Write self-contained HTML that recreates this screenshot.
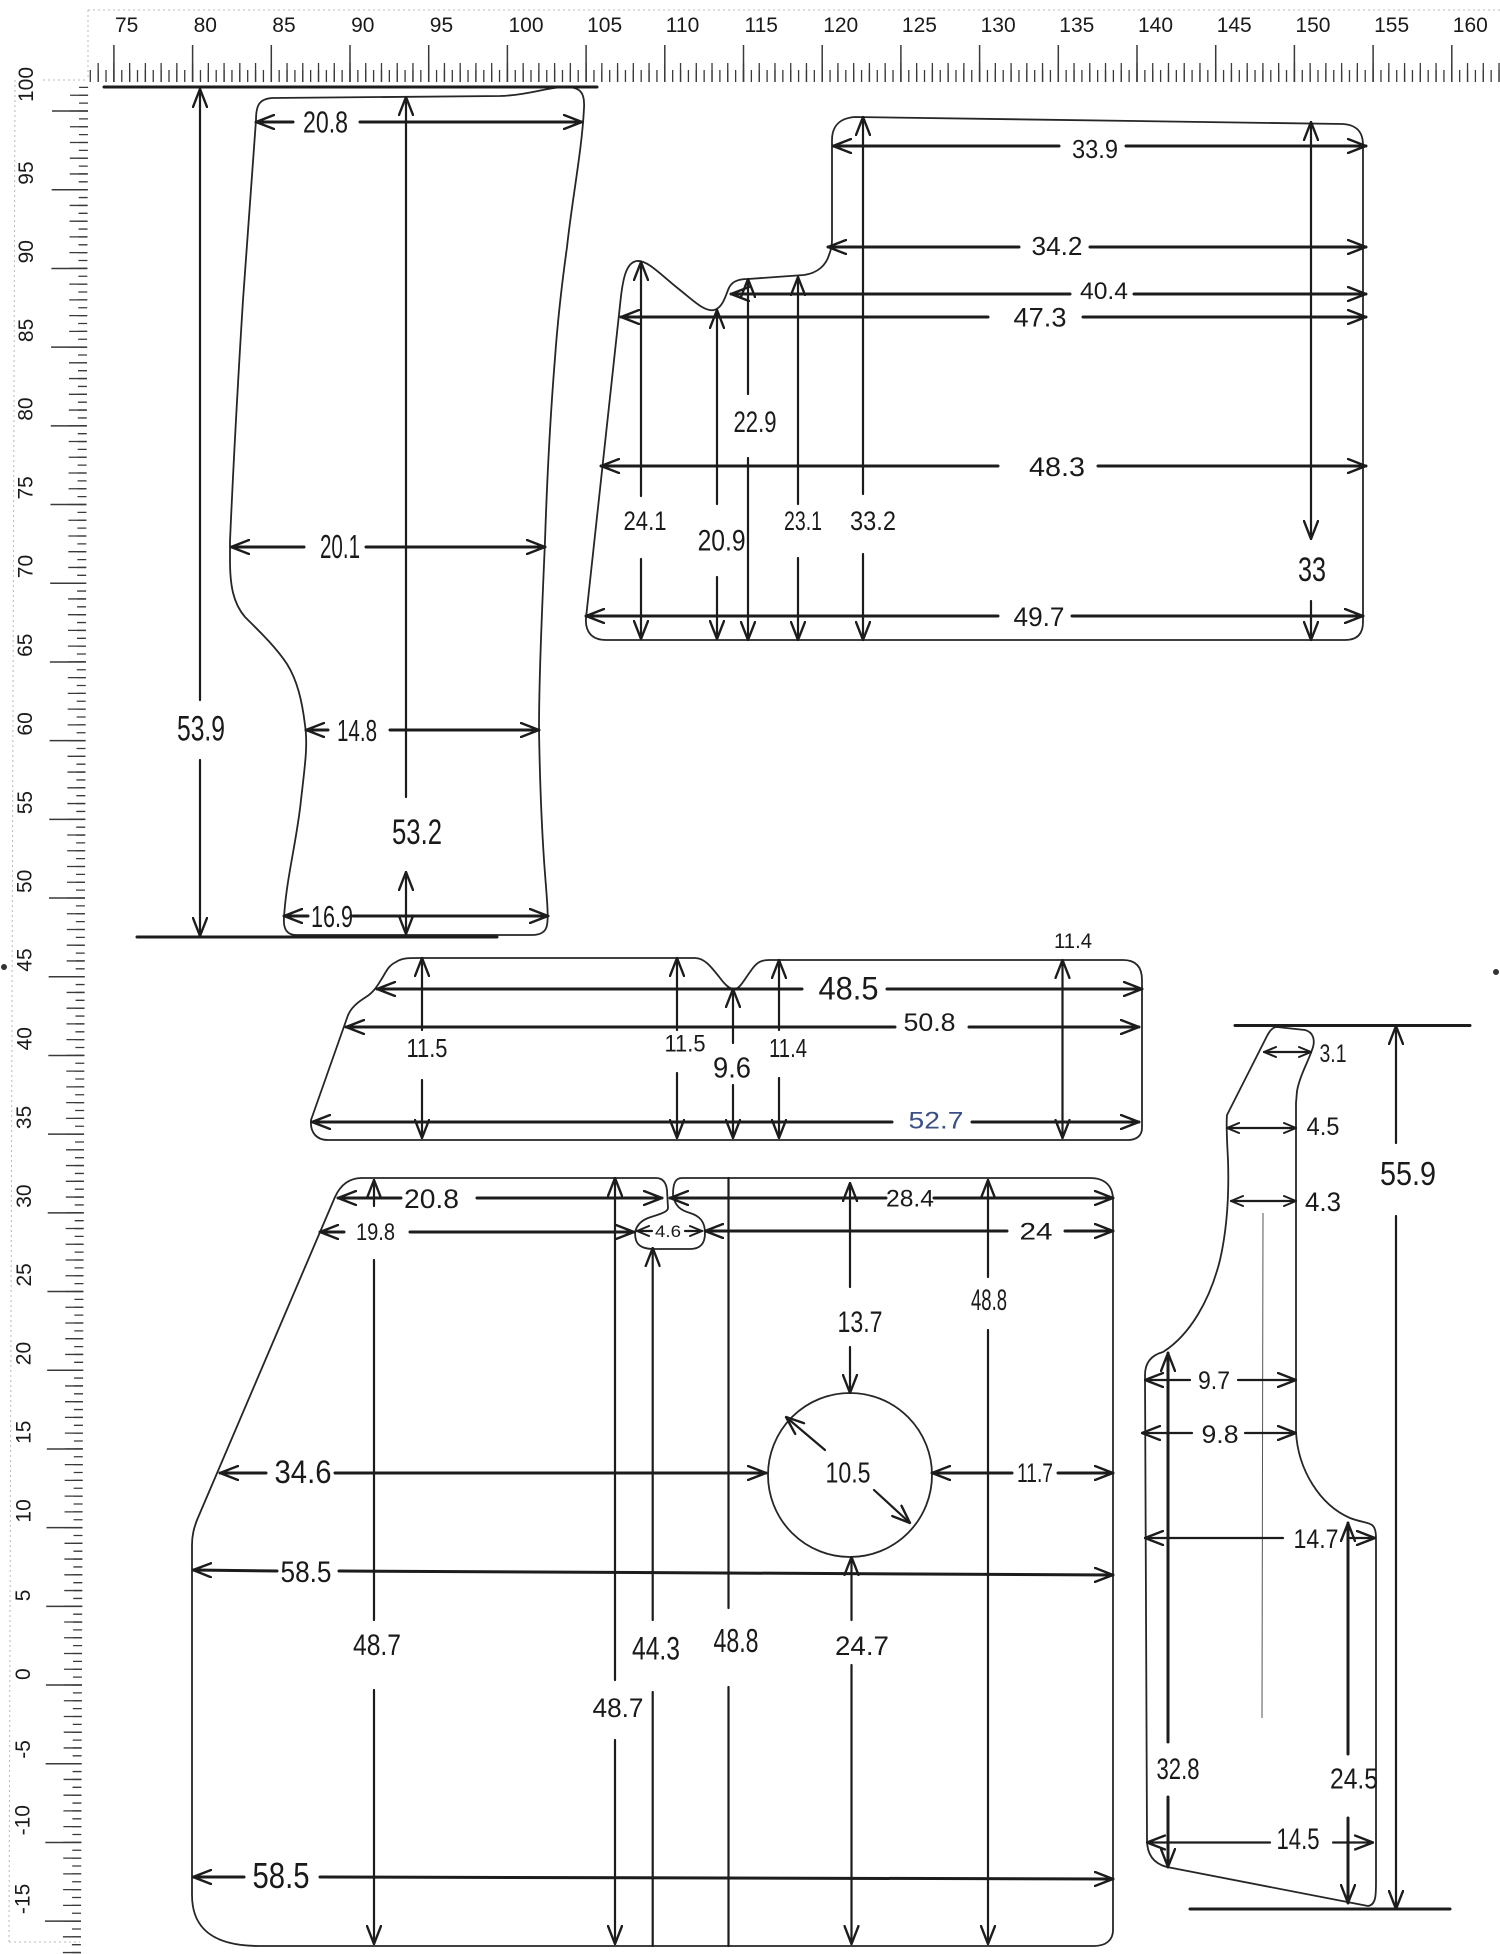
<!DOCTYPE html>
<html>
<head>
<meta charset="utf-8">
<style>
html,body{margin:0;padding:0;background:#fff;}
svg{display:block;}
.o{fill:none;stroke:#262626;stroke-width:1.8;stroke-linejoin:round;stroke-linecap:round;}
.d{fill:none;stroke:#1c1c1c;stroke-width:3;stroke-linecap:round;}
.v{fill:none;stroke:#1c1c1c;stroke-width:2.2;stroke-linecap:round;}
.s{marker-start:url(#a);}
.e{marker-end:url(#a);}
.b{marker-start:url(#a);marker-end:url(#a);}
.ss{marker-start:url(#m);}
.ee{marker-end:url(#m);}
.t{font-family:"Liberation Sans Narrow","Liberation Sans",sans-serif;fill:#1a1a1a;text-anchor:middle;}
.r{font-family:"Liberation Sans",sans-serif;fill:#1a1a1a;font-size:21px;}
</style>
</head>
<body>
<svg width="1500" height="1954" viewBox="0 0 1500 1954" xmlns="http://www.w3.org/2000/svg">
<defs>
<marker id="a" viewBox="0 0 20 16" refX="19" refY="8" markerWidth="20" markerHeight="16" markerUnits="userSpaceOnUse" orient="auto-start-reverse">
<path d="M1,1 L19,8 L1,15" fill="none" stroke="#1c1c1c" stroke-width="2.4" stroke-linecap="round" stroke-linejoin="round"/>
</marker>
<marker id="m" viewBox="0 0 14 12" refX="13" refY="6" markerWidth="14" markerHeight="12" markerUnits="userSpaceOnUse" orient="auto-start-reverse">
<path d="M1,1 L13,6 L1,11" fill="none" stroke="#1c1c1c" stroke-width="2" stroke-linecap="round" stroke-linejoin="round"/>
</marker>
</defs>
<rect width="1500" height="1954" fill="#ffffff"/>

<!-- ruler frame dotted -->
<g stroke="#b8b8b8" stroke-width="1" stroke-dasharray="2 3" fill="none">
<line x1="88" y1="10" x2="1500" y2="10"/>
<line x1="88" y1="10" x2="88" y2="80"/>
<line x1="43" y1="80" x2="88" y2="80"/>
<line x1="15" y1="80" x2="9" y2="1942"/>
<line x1="9" y1="1942" x2="80" y2="1942"/>
</g>

<!-- top ruler ticks -->
<g stroke="#3a3a3a" fill="none">
<line x1="89.64" y1="76" x2="1500" y2="76" stroke-width="12" stroke-dasharray="1.3 6.57"/>
<line x1="97.51" y1="72.5" x2="1500" y2="72.5" stroke-width="19" stroke-dasharray="1.3 14.44"/>
<line x1="113.15" y1="63.5" x2="1500" y2="63.5" stroke-width="37" stroke-dasharray="1.5 77.2"/>
</g>
<g class="r">
<text x="115" y="32">75</text><text x="193.6" y="32">80</text><text x="272.3" y="32">85</text>
<text x="351.1" y="32">90</text><text x="429.8" y="32">95</text><text x="508.5" y="32">100</text>
<text x="587.1" y="32">105</text><text x="665.8" y="32">110</text><text x="744.5" y="32">115</text>
<text x="823.2" y="32">120</text><text x="901.9" y="32">125</text><text x="980.6" y="32">130</text>
<text x="1059.3" y="32">135</text><text x="1138" y="32">140</text><text x="1216.7" y="32">145</text>
<text x="1295.4" y="32">150</text><text x="1374.1" y="32">155</text><text x="1452.8" y="32">160</text>
</g>

<!-- left ruler ticks -->
<g stroke="#3a3a3a" fill="none" transform="matrix(1 0 -0.00387 1 0.43 0)">
<line x1="83.5" y1="86.74" x2="83.5" y2="1954" stroke-width="9" stroke-dasharray="1.3 6.57"/>
<line x1="79" y1="94.6" x2="79" y2="1954" stroke-width="18" stroke-dasharray="1.3 14.44"/>
<line x1="70" y1="110.3" x2="70" y2="1954" stroke-width="36" stroke-dasharray="1.5 77.2"/>
</g>
<g class="r">
<text transform="translate(33,102) rotate(-90)">100</text>
<text transform="translate(33,184.7) rotate(-90)">95</text>
<text transform="translate(33,263.4) rotate(-90)">90</text>
<text transform="translate(33,342.1) rotate(-90)">85</text>
<text transform="translate(32.5,420.8) rotate(-90)">80</text>
<text transform="translate(32.5,499.5) rotate(-90)">75</text>
<text transform="translate(32.5,578.2) rotate(-90)">70</text>
<text transform="translate(32,656.9) rotate(-90)">65</text>
<text transform="translate(32,735.6) rotate(-90)">60</text>
<text transform="translate(32,814.3) rotate(-90)">55</text>
<text transform="translate(31.5,893) rotate(-90)">50</text>
<text transform="translate(31.5,971.7) rotate(-90)">45</text>
<text transform="translate(31.5,1050.4) rotate(-90)">40</text>
<text transform="translate(31,1129.1) rotate(-90)">35</text>
<text transform="translate(31,1207.8) rotate(-90)">30</text>
<text transform="translate(31,1286.5) rotate(-90)">25</text>
<text transform="translate(30.5,1365.2) rotate(-90)">20</text>
<text transform="translate(30.5,1443.9) rotate(-90)">15</text>
<text transform="translate(30.5,1522.6) rotate(-90)">10</text>
<text transform="translate(30,1601.3) rotate(-90)">5</text>
<text transform="translate(30,1680) rotate(-90)">0</text>
<text transform="translate(30,1758.7) rotate(-90)">-5</text>
<text transform="translate(29.5,1835.4) rotate(-90)">-10</text>
<text transform="translate(29.5,1914.1) rotate(-90)">-15</text>
</g>
<circle cx="4" cy="967" r="3" fill="#333"/>
<circle cx="1496" cy="972" r="3" fill="#333"/>

<!-- ================= SHAPE A ================= -->
<path class="o" d="M256,120 C256,104 260,99 272,98 L500,96 C530,95 548,87 565,87 C580,87 585,92 584,108 C582,150 572,200 567,247 C561,290 557,330 555,358 C550,420 547,480 545,541 C542,610 539,680 539,730 C540,790 542,830 544,860 C546,890 549,915 547,925 C546,932 540,935 532,935 L296,935 C288,935 283,930 284,918 C286,880 297,840 301,800 C305,765 308,745 305,725 C302,700 297,680 287,664 C275,646 258,630 245,617 C233,603 230,585 230,560 L230,541 C234,450 238,380 243,300 C247,240 252,180 256,120 Z"/>
<path class="d" d="M104,87 L597,87"/>
<path class="d" d="M137,937 L497,937" stroke-width="2.6"/>
<path class="v s" d="M200,89 L200,700"/>
<path class="v e" d="M200,760 L200,936"/>
<path class="d s" d="M256,122 L293,122"/>
<path class="d e" d="M360,122 L582,122"/>
<path class="v s" d="M406,97 L406,797"/>
<path class="v b" d="M406,872 L406,934"/>
<path class="d s" d="M231,547 L304,547"/>
<path class="d e" d="M366,547 L545,547"/>
<path class="d s" d="M306,730 L328,730"/>
<path class="d e" d="M390,730 L539,730"/>
<path class="d s" d="M284,916 L308,916"/>
<path class="d e" d="M353,916 L548,916"/>
<text class="t" x="325.5" y="132.7" font-size="31" textLength="45" lengthAdjust="spacingAndGlyphs">20.8</text>
<text class="t" x="340" y="558" font-size="33" textLength="40" lengthAdjust="spacingAndGlyphs">20.1</text>
<text class="t" x="357" y="741" font-size="31" textLength="40" lengthAdjust="spacingAndGlyphs">14.8</text>
<text class="t" x="201" y="740.5" font-size="35" textLength="48" lengthAdjust="spacingAndGlyphs">53.9</text>
<text class="t" x="417" y="844" font-size="35" textLength="50" lengthAdjust="spacingAndGlyphs">53.2</text>
<text class="t" x="332" y="927" font-size="31" textLength="42" lengthAdjust="spacingAndGlyphs">16.9</text>

<!-- ================= SHAPE B ================= -->
<path class="o" d="M832,240 L832,140 C832,126 840,118 855,117 L1343,124 C1357,125 1363,132 1363,145 L1363,622 C1363,634 1357,640 1345,640 L606,640 C592,640 585,632 586,618 L621,296 C623,280 626,262 637,261 C648,260 662,276 680,290 C695,302 705,312 714,310 C722,308 725,298 728,290 C731,282 737,279 748,279 L804,275 C818,273 826,265 829,255 C831,250 832,245 832,240 Z"/>
<path class="d s" d="M833,146 L1059,146"/>
<path class="d e" d="M1126,146 L1366,146"/>
<path class="d s" d="M828,247 L1019,247"/>
<path class="d e" d="M1090,247 L1366,247"/>
<path class="d s" d="M731,294 L1070,294"/>
<path class="d e" d="M1134,294 L1366,294"/>
<path class="d s" d="M621,317 L988,317"/>
<path class="d e" d="M1083,317 L1366,317"/>
<path class="d s" d="M601,466 L998,466"/>
<path class="d e" d="M1098,466 L1366,466"/>
<path class="d s" d="M586,616 L998,616"/>
<path class="d e" d="M1072,616 L1363,616"/>
<path class="v s" d="M641,262 L641,496"/>
<path class="v e" d="M641,559 L641,639"/>
<path class="v s" d="M717,310 L717,504"/>
<path class="v e" d="M717,577 L717,639"/>
<path class="v s" d="M748,279 L748,394"/>
<path class="v e" d="M748,458 L748,640"/>
<path class="v s" d="M798,277 L798,504"/>
<path class="v e" d="M798,558 L798,640"/>
<path class="v s" d="M863,117 L863,494"/>
<path class="v e" d="M863,554 L863,640"/>
<path class="v b" d="M1311,122 L1311,539"/>
<path class="v e" d="M1311,601 L1311,640"/>
<text class="t" x="1095" y="158" font-size="26" textLength="46" lengthAdjust="spacingAndGlyphs">33.9</text>
<text class="t" x="1057" y="255" font-size="26" textLength="51" lengthAdjust="spacingAndGlyphs">34.2</text>
<text class="t" x="1104" y="299" font-size="24" textLength="48" lengthAdjust="spacingAndGlyphs">40.4</text>
<text class="t" x="1040" y="326.5" font-size="27" textLength="53" lengthAdjust="spacingAndGlyphs">47.3</text>
<text class="t" x="1057" y="476" font-size="27" textLength="56" lengthAdjust="spacingAndGlyphs">48.3</text>
<text class="t" x="1039" y="626" font-size="27" textLength="51" lengthAdjust="spacingAndGlyphs">49.7</text>
<text class="t" x="645" y="530" font-size="27" textLength="43" lengthAdjust="spacingAndGlyphs">24.1</text>
<text class="t" x="721.6" y="550.6" font-size="30" textLength="48" lengthAdjust="spacingAndGlyphs">20.9</text>
<text class="t" x="755" y="432" font-size="30" textLength="43" lengthAdjust="spacingAndGlyphs">22.9</text>
<text class="t" x="803" y="530" font-size="27" textLength="38" lengthAdjust="spacingAndGlyphs">23.1</text>
<text class="t" x="873" y="530" font-size="27" textLength="46" lengthAdjust="spacingAndGlyphs">33.2</text>
<text class="t" x="1312" y="581" font-size="34" textLength="28" lengthAdjust="spacingAndGlyphs">33</text>

<!-- ================= SHAPE C ================= -->
<path class="o" d="M396,962 C402,958 408,958 418,958 L695,958 C705,958 712,968 720,978 C726,986 730,989 734,989 C740,989 744,980 750,972 C756,963 760,960 769,960 L1123,960 C1135,960 1142,966 1142,980 L1142,1128 C1142,1136 1136,1140 1128,1140 L328,1140 C316,1140 310,1132 311,1120 L347,1018 C350,1008 358,1002 366,997 C374,992 378,985 384,975 C388,968 390,965 396,962 Z"/>
<path class="d s" d="M377,989 L802,989"/>
<path class="d e" d="M887,989 L1142,989"/>
<path class="d s" d="M346,1027 L895,1027"/>
<path class="d e" d="M969,1027 L1139,1027"/>
<path class="d s" d="M312,1122 L892,1122"/>
<path class="d e" d="M972,1122 L1139,1122"/>
<path class="v s" d="M422,958 L422,1030"/>
<path class="v e" d="M422,1080 L422,1138"/>
<path class="v s" d="M677,958 L677,1030"/>
<path class="v e" d="M677,1073 L677,1138"/>
<path class="v s" d="M733,989 L733,1043"/>
<path class="v e" d="M733,1085 L733,1138" stroke="#4a5a8a"/>
<path class="v s" d="M779,960 L779,1030"/>
<path class="v e" d="M779,1078 L779,1138"/>
<path class="v b" d="M1062.5,960 L1062.5,1138"/>
<text class="t" x="848.5" y="999.5" font-size="32" textLength="60" lengthAdjust="spacingAndGlyphs">48.5</text>
<text class="t" x="929.5" y="1031" font-size="25" textLength="52" lengthAdjust="spacingAndGlyphs">50.8</text>
<text class="t" x="936" y="1128.5" font-size="24" textLength="55" lengthAdjust="spacingAndGlyphs" style="fill:#3b4f86">52.7</text>
<text class="t" x="427" y="1057" font-size="26" textLength="41" lengthAdjust="spacingAndGlyphs">11.5</text>
<text class="t" x="685" y="1051.5" font-size="24" textLength="41" lengthAdjust="spacingAndGlyphs">11.5</text>
<text class="t" x="732" y="1077.5" font-size="29" textLength="38" lengthAdjust="spacingAndGlyphs">9.6</text>
<text class="t" x="788" y="1057" font-size="26" textLength="38" lengthAdjust="spacingAndGlyphs">11.4</text>
<text class="t" x="1073" y="948" font-size="21" textLength="38" lengthAdjust="spacingAndGlyphs">11.4</text>

<!-- ================= SHAPE D ================= -->
<path class="o" d="M362,1178 L656,1178 C662,1178 666,1182 667,1190 L668,1208 C668,1212 660,1214 648,1218 C638,1222 633,1230 636,1240 C638,1247 645,1249 655,1249 L690,1249 C700,1249 705,1244 705,1233 C705,1222 700,1216 690,1213 C680,1210 675,1206 673,1195 C673,1184 675,1178 682,1178 L1090,1178 C1105,1178 1113,1186 1113,1200 L1113,1930 C1113,1940 1106,1946 1094,1946 L259,1946 C215,1946 192,1930 192,1895 L192,1545 C192,1535 194,1528 197,1520 L335,1197 C340,1186 348,1178 362,1178 Z"/>
<circle class="o" cx="850" cy="1475" r="82"/>
<path class="d s" d="M338,1198 L401,1198"/>
<path class="d e" d="M477,1198 L662,1198"/>
<path class="d s" d="M670,1198 L886,1198"/>
<path class="d e" d="M934,1198 L1113,1198"/>
<path class="d s" d="M320,1232 L344,1232"/>
<path class="d e" d="M410,1232 L634,1232"/>
<path class="v ss" d="M637,1231 L652,1231"/>
<path class="v ee" d="M685,1231 L702,1231"/>
<path class="d s" d="M705,1231 L1007,1231"/>
<path class="d e" d="M1065,1231 L1113,1231"/>
<path class="d s" d="M220,1473 L266,1473"/>
<path class="d e" d="M335,1473 L766,1473"/>
<path class="d s" d="M932,1473 L1012,1473"/>
<path class="d e" d="M1058,1473 L1113,1473"/>
<path class="d s" d="M193,1570 L277,1571"/>
<path class="d e" d="M339,1571 L1113,1575"/>
<path class="d s" d="M193,1877 L244,1877"/>
<path class="d e" d="M320,1877 L1113,1879"/>
<path class="v e" d="M825,1450 L786,1417"/>
<path class="v e" d="M874,1490 L910,1523"/>
<path class="v s" d="M374,1180 L374,1206"/>
<path class="v" d="M374,1260 L374,1620"/>
<path class="v e" d="M374,1690 L374,1944"/>
<path class="v s" d="M615,1178 L615,1680"/>
<path class="v e" d="M615,1740 L615,1944"/>
<path class="v s" d="M652.7,1248 L652.7,1620"/>
<path class="v" d="M652.7,1692 L652.7,1946"/>
<path class="v" d="M728.5,1178 L728.5,1608"/>
<path class="v" d="M728.5,1687 L728.5,1946"/>
<path class="v s" d="M850,1183 L850,1287"/>
<path class="v e" d="M850,1347 L850,1393"/>
<path class="v s" d="M851.5,1557 L851.5,1620"/>
<path class="v e" d="M851.5,1665 L851.5,1944"/>
<path class="v s" d="M988,1180 L988,1277"/>
<path class="v e" d="M988,1330 L988,1944"/>
<text class="t" x="431.5" y="1208" font-size="27" textLength="55" lengthAdjust="spacingAndGlyphs">20.8</text>
<text class="t" x="910" y="1206.5" font-size="24" textLength="48" lengthAdjust="spacingAndGlyphs">28.4</text>
<text class="t" x="375.5" y="1240" font-size="24" textLength="39" lengthAdjust="spacingAndGlyphs">19.8</text>
<text class="t" x="668" y="1237" font-size="17" textLength="26" lengthAdjust="spacingAndGlyphs">4.6</text>
<text class="t" x="1036" y="1239.5" font-size="24" textLength="33" lengthAdjust="spacingAndGlyphs">24</text>
<text class="t" x="860" y="1332" font-size="30" textLength="45" lengthAdjust="spacingAndGlyphs">13.7</text>
<text class="t" x="989" y="1310" font-size="30" textLength="36" lengthAdjust="spacingAndGlyphs">48.8</text>
<text class="t" x="303" y="1483" font-size="32" textLength="57" lengthAdjust="spacingAndGlyphs">34.6</text>
<text class="t" x="848" y="1482.5" font-size="29" textLength="45" lengthAdjust="spacingAndGlyphs">10.5</text>
<text class="t" x="1035" y="1482" font-size="27" textLength="36" lengthAdjust="spacingAndGlyphs">11.7</text>
<text class="t" x="306" y="1582" font-size="30" textLength="51" lengthAdjust="spacingAndGlyphs">58.5</text>
<text class="t" x="281" y="1888" font-size="36" textLength="57" lengthAdjust="spacingAndGlyphs">58.5</text>
<text class="t" x="377" y="1655" font-size="30" textLength="48" lengthAdjust="spacingAndGlyphs">48.7</text>
<text class="t" x="656" y="1659.5" font-size="32" textLength="48" lengthAdjust="spacingAndGlyphs">44.3</text>
<text class="t" x="736" y="1652" font-size="33" textLength="45" lengthAdjust="spacingAndGlyphs">48.8</text>
<text class="t" x="862" y="1655" font-size="27" textLength="54" lengthAdjust="spacingAndGlyphs">24.7</text>
<text class="t" x="618" y="1717" font-size="27" textLength="51" lengthAdjust="spacingAndGlyphs">48.7</text>

<!-- ================= SHAPE E ================= -->
<path class="o" d="M1277,1027 L1305,1030 C1313,1032 1316,1040 1312,1050 C1308,1062 1300,1075 1297,1091 L1296,1103 L1296,1432 C1298,1470 1320,1505 1350,1518 C1360,1522 1368,1522 1372,1525 C1376,1528 1376,1535 1376,1540 L1376,1882 C1376,1895 1376,1905 1368,1906 L1167,1867 C1155,1864 1147,1856 1147,1840 L1145,1375 C1145,1362 1152,1355 1163,1352 C1190,1335 1210,1300 1220,1260 C1228,1225 1229,1190 1228,1160 C1227,1140 1226,1125 1227,1115 L1267,1036 C1270,1030 1273,1027 1277,1027 Z"/>
<path class="d" d="M1235,1025.5 L1470,1025.5" stroke-width="2.6"/>
<path class="d" d="M1190,1909 L1450,1909" stroke-width="2.6"/>
<path class="v ss ee" d="M1264,1052 L1311,1052"/>
<path class="v ss ee" d="M1227,1128 L1296,1128"/>
<path class="v ss ee" d="M1231,1201 L1296,1201"/>
<line x1="1263" y1="1213" x2="1262" y2="1718" stroke="#555" stroke-width="1"/>
<path class="v s" d="M1396,1026 L1396,1143"/>
<path class="v e" d="M1396,1216 L1396,1909"/>
<path class="v s" d="M1145,1380 L1190,1380"/>
<path class="v e" d="M1238,1380 L1296,1380"/>
<path class="v s" d="M1142,1433 L1192,1433"/>
<path class="v e" d="M1245,1433 L1296,1433"/>
<path class="v s" d="M1145,1538 L1283,1538"/>
<path class="v e" d="M1350,1538 L1375,1538"/>
<path class="d s" d="M1168,1353 L1168,1742"/>
<path class="d e" d="M1168,1797 L1168,1867"/>
<path class="d s" d="M1348,1523 L1348,1754"/>
<path class="d e" d="M1348,1818 L1348,1903"/>
<path class="v s" d="M1147,1842.5 L1270,1842.5"/>
<path class="v e" d="M1333,1842.5 L1373,1842.5"/>
<text class="t" x="1333" y="1062" font-size="25" textLength="27" lengthAdjust="spacingAndGlyphs">3.1</text>
<text class="t" x="1323" y="1135" font-size="25" textLength="33" lengthAdjust="spacingAndGlyphs">4.5</text>
<text class="t" x="1323" y="1211" font-size="27" textLength="36" lengthAdjust="spacingAndGlyphs">4.3</text>
<text class="t" x="1408" y="1185" font-size="33" textLength="56" lengthAdjust="spacingAndGlyphs">55.9</text>
<text class="t" x="1214" y="1389" font-size="25" textLength="32" lengthAdjust="spacingAndGlyphs">9.7</text>
<text class="t" x="1220" y="1443" font-size="25" textLength="37" lengthAdjust="spacingAndGlyphs">9.8</text>
<text class="t" x="1316" y="1548" font-size="27" textLength="45" lengthAdjust="spacingAndGlyphs">14.7</text>
<text class="t" x="1178" y="1779" font-size="30" textLength="43" lengthAdjust="spacingAndGlyphs">32.8</text>
<text class="t" x="1354" y="1788.5" font-size="29" textLength="48" lengthAdjust="spacingAndGlyphs">24.5</text>
<text class="t" x="1298" y="1849" font-size="30" textLength="43" lengthAdjust="spacingAndGlyphs">14.5</text>
</svg>
</body>
</html>
